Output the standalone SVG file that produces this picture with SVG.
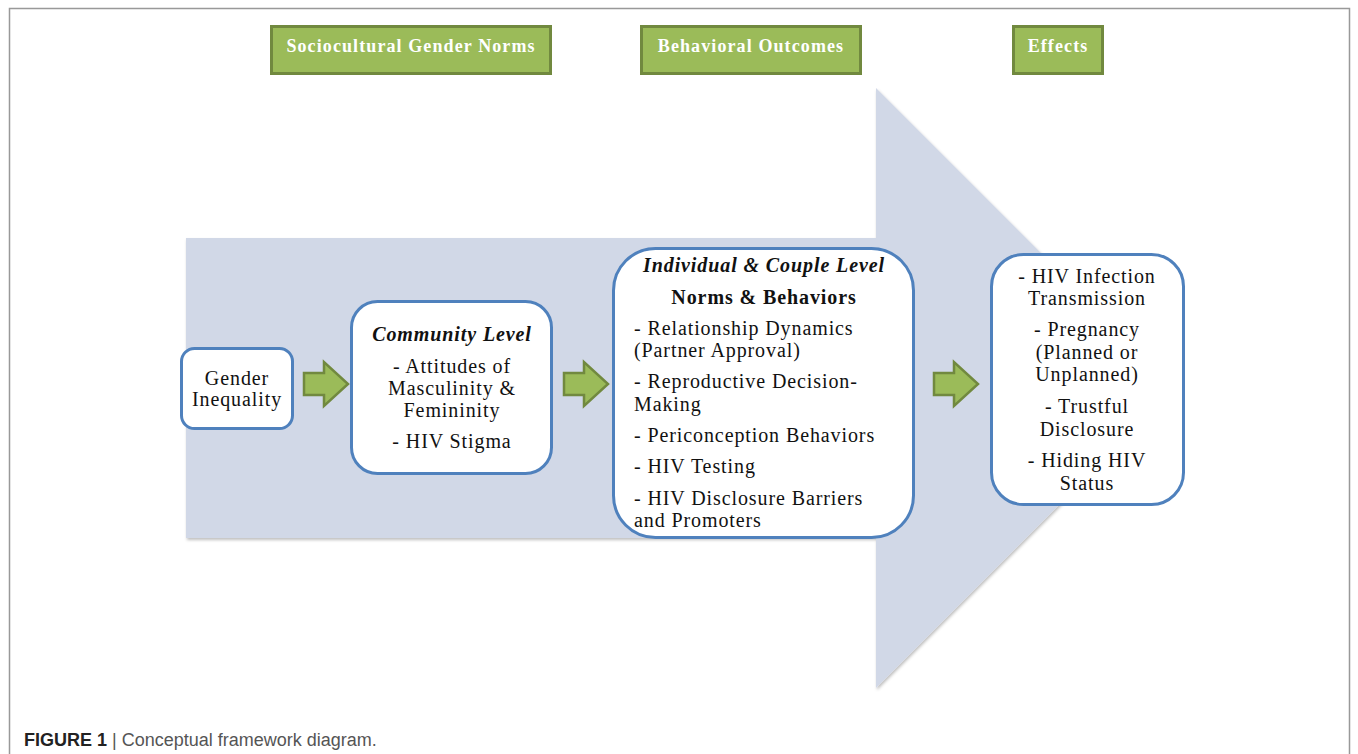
<svg xmlns="http://www.w3.org/2000/svg" width="1358" height="754" viewBox="0 0 1358 754">
<style>
.hdr rect{fill:#9BBB59;stroke:#71893F;stroke-width:3}
.hdr text{font-family:"Liberation Serif",serif;font-weight:bold;font-size:18px;letter-spacing:1.1px;fill:#fff;text-anchor:middle}
.node rect{fill:#fff;stroke:#4F81BD;stroke-width:3}
.node text{font-family:"Liberation Serif",serif;font-size:20px;letter-spacing:0.9px;fill:#111}
.c{text-anchor:middle}
.bi{font-weight:bold;font-style:italic}
.b{font-weight:bold}
.garrow{fill:#9BBB59;stroke:#71893F;stroke-width:2.5;stroke-linejoin:miter}
</style>
<defs>
<filter id="sh" x="-5%" y="-5%" width="110%" height="110%">
<feDropShadow dx="1" dy="2" stdDeviation="1.5" flood-color="#000" flood-opacity="0.25"/>
</filter>
<path id="ga" d="M0,11 H20 V0 L44,22 L20,44 V33 H0 Z"/>
</defs>
<rect x="0" y="0" width="1358" height="754" fill="#fff"/>
<path d="M9.5,754 V8.5 H1349.5 V754" fill="none" stroke="#999" stroke-width="1.5"/>

<g id="big-arrow">
<path d="M186,238 H876 V88 L1176,388 L876,688 V538 H186 Z" fill="#D1D8E7" filter="url(#sh)"/>
</g>

<g id="hdr-sociocultural" class="hdr">
<rect x="271.5" y="26.5" width="279" height="47"/>
<text x="411" y="52">Sociocultural Gender Norms</text>
</g>
<g id="hdr-behavioral" class="hdr">
<rect x="641.5" y="26.5" width="219" height="47"/>
<text x="751" y="52">Behavioral Outcomes</text>
</g>
<g id="hdr-effects" class="hdr">
<rect x="1013.5" y="26.5" width="89" height="47"/>
<text x="1058" y="52">Effects</text>
</g>

<g id="connectors">
<use href="#ga" x="304" y="362" class="garrow"/>
<use href="#ga" x="564" y="362" class="garrow"/>
<use href="#ga" x="934" y="362" class="garrow"/>
</g>

<g id="node-gender" class="node">
<rect x="181.5" y="348.5" width="111" height="80" rx="13"/>
<text class="c" x="237" y="385">Gender</text>
<text class="c" x="237" y="406">Inequality</text>
</g>

<g id="node-community" class="node">
<rect x="351.5" y="301.5" width="200" height="172" rx="26"/>
<text class="c bi" x="452" y="341">Community Level</text>
<text class="c" x="452" y="373">- Attitudes of</text>
<text class="c" x="452" y="395">Masculinity &amp;</text>
<text class="c" x="452" y="417">Femininity</text>
<text class="c" x="452" y="448">- HIV Stigma</text>
</g>

<g id="node-individual" class="node">
<rect x="613.5" y="248.5" width="300" height="289" rx="42"/>
<text class="c bi" x="764" y="272">Individual &amp; Couple Level</text>
<text class="c b" x="764" y="304">Norms &amp; Behaviors</text>
<text x="634" y="335">- Relationship Dynamics</text>
<text x="634" y="357">(Partner Approval)</text>
<text x="634" y="388">- Reproductive Decision-</text>
<text x="634" y="411">Making</text>
<text x="634" y="442">- Periconception Behaviors</text>
<text x="634" y="473">- HIV Testing</text>
<text x="634" y="505">- HIV Disclosure Barriers</text>
<text x="634" y="527">and Promoters</text>
</g>

<g id="node-effects" class="node">
<rect x="991.5" y="254.5" width="192" height="250" rx="32"/>
<text class="c" x="1087" y="283">- HIV Infection</text>
<text class="c" x="1087" y="305">Transmission</text>
<text class="c" x="1087" y="336">- Pregnancy</text>
<text class="c" x="1087" y="359">(Planned or</text>
<text class="c" x="1087" y="381">Unplanned)</text>
<text class="c" x="1087" y="413">- Trustful</text>
<text class="c" x="1087" y="436">Disclosure</text>
<text class="c" x="1087" y="467">- Hiding HIV</text>
<text class="c" x="1087" y="490">Status</text>
</g>

<g id="caption">
<text x="24" y="746" font-family="Liberation Sans, Arial, sans-serif" font-size="18" fill="#222"><tspan font-weight="bold">FIGURE 1</tspan><tspan fill="#555"> | Conceptual framework diagram.</tspan></text>
</g>
</svg>
